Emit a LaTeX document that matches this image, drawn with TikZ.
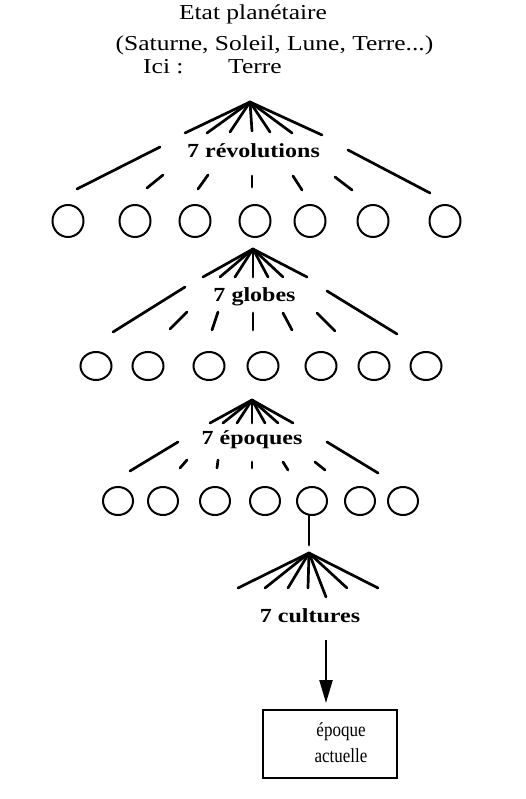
\documentclass[tikz,border=0pt]{standalone}
\usepackage{fontspec}
\setmainfont[FakeStretch=1.2]{Liberation Serif}
\newfontfamily\narrowserif[FakeStretch=0.85]{Liberation Serif}
\usetikzlibrary{shapes.geometric,arrows.meta}
\tikzset{
  fanline/.style={line width=2.7pt,line cap=round},
  orb/.style={draw,ellipse,line width=2pt,minimum width=30pt,minimum height=30pt,inner sep=0pt},
  head/.style={font=\fontsize{21.25}{24}\selectfont,inner sep=0pt},
  level/.style={font=\fontsize{20}{24}\selectfont\bfseries,inner sep=0pt,anchor=base},
  boxtext/.style={font=\narrowserif\fontsize{20}{26}\selectfont,inner sep=0pt},
}
\begin{document}
\begin{tikzpicture}[x=1pt,y=-1pt]
\useasboundingbox (0,0) rectangle (525,799);

% heading
\node[head,anchor=base] (etat) at (253,20) {Etat planétaire};
\node[head,anchor=base] (liste) at (274.5,51) {(Saturne, Soleil, Lune, Terre...)};
\node[head,anchor=base west] (ici) at (143,74) {Ici :};
\node[head,anchor=base west] (terre) at (228,74) {Terre};

% fan 1 : revolutions
\coordinate (f1) at (250,102);
\foreach \x/\y [count=\i] in {185/133,207/133,230/132,252/131,270/132,292/133,322/135}
  {\coordinate (f1e\i) at (\x,\y); \draw[fanline] (f1) -- (f1e\i);}
\node[level] (rev) at (253.5,158) {7 révolutions};
\foreach \a/\b/\c/\d in {160/147/77/189,163/175/147/188,208/175/198/189,252/176/252/187,
                         293/176/302/190,335/177/352/190,348/150/430/193}
  \draw[fanline] (\a,\b) -- (\c,\d);
\foreach \x [count=\i] in {68,135,195,255,310,373,445}
  \node[orb,minimum height=32pt,minimum width=31pt] (a\i) at (\x,221) {};

% fan 2 : globes
\coordinate (f2) at (253,249);
\foreach \x [count=\i] in {203,220,235,253,268,283,307}
  {\coordinate (f2e\i) at (\x,277); \draw[fanline] (f2) -- (f2e\i);}
\node[level] (glob) at (254.5,301) {7 globes};
\foreach \a/\b/\c/\d in {185/287/113/332,187/312/170/329,218/312/212/330,253/313/253/330,
                         283/313/292/330,317/313/335/331,327/291/397/334}
  \draw[fanline] (\a,\b) -- (\c,\d);
\foreach \x [count=\i] in {96,148,209,263,321,374,426}
  \node[orb,minimum height=28pt,minimum width=31pt] (b\i) at (\x,366) {};

% fan 3 : epoques
\coordinate (f3) at (252,400);
\foreach \x [count=\i] in {210,223,237,252,265,278,293}
  {\coordinate (f3e\i) at (\x,423); \draw[fanline] (f3) -- (f3e\i);}
\node[level] (epo) at (252,444) {7 époques};
\foreach \a/\b/\c/\d in {178/442/130/471,187/460/180/468,218/460/217/468,252/462/252/468,
                         283/462/288/470,315/462/325/470,327/442/378/473}
  \draw[fanline] (\a,\b) -- (\c,\d);
\foreach \x [count=\i] in {118,163,215,265,312,360,403}
  \node[orb,minimum height=28pt,minimum width=30pt] (c\i) at (\x,501) {};

% stem and fan 4 : cultures
\coordinate (f4) at (309,553);
\coordinate (stem) at (309,545);
\draw[fanline] (c5.south -| stem) -- (stem);
\foreach \x/\y [count=\i] in {238/588,265/588,288/588,308/588,326/597,347/588,378/588}
  {\coordinate (f4e\i) at (\x,\y); \draw[fanline] (f4) -- (f4e\i);}
\node[level] (cult) at (310,622) {7 cultures};

% current epoch
\node[draw,line width=2pt,minimum width=134pt,minimum height=68pt,inner sep=0pt] (box) at (330,744) {};
\node[boxtext,anchor=base] (w1) at (341,736) {époque};
\node[boxtext,anchor=base] (w2) at (341,762) {actuelle};
\coordinate (astart) at (326,640);
\draw[line width=2.2pt,-{Triangle[length=23pt,width=13pt]},shorten >=6pt] (astart) -- (box.north -| astart);
\end{tikzpicture}
\end{document}
